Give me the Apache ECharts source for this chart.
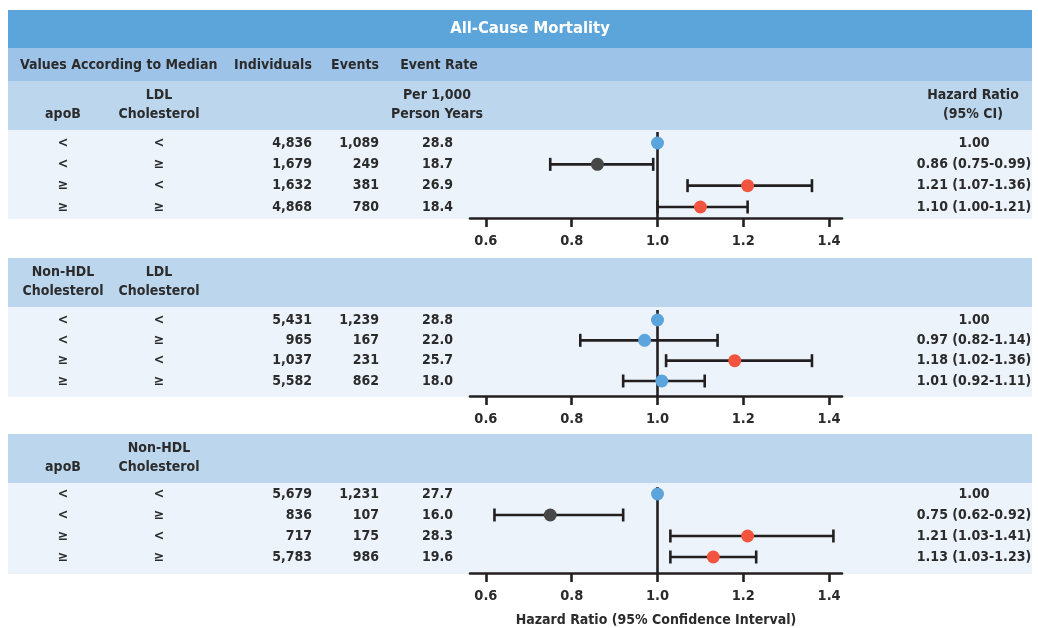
<!DOCTYPE html>
<html><head><meta charset="utf-8">
<script src="https://cdn.jsdelivr.net/npm/echarts@6/dist/echarts.min.js"></script>
<style>html,body{margin:0;padding:0;background:#fff}#c{width:1038px;height:628px}</style>
</head><body><div id="c"></div>
<script>
// ---------------- data ----------------
const xTicks = [0.6, 0.8, 1.0, 1.2, 1.4];
const rowIdx = [1, 2, 3, 4];
const firstVar = ['<', '<', '≥', '≥'];
const secondVar = ['<', '≥', '<', '≥'];

const sectionVars = [
  [['apoB'], ['LDL', 'Cholesterol']],
  [['Non-HDL', 'Cholesterol'], ['LDL', 'Cholesterol']],
  [['apoB'], ['Non-HDL', 'Cholesterol']]
];

const individuals1 = ['4,836', '1,679', '1,632', '4,868'];
const events1 = ['1,089', '249', '381', '780'];
const rates1 = ['28.8', '18.7', '26.9', '18.4'];
const hr1 = [1.00, 0.86, 1.21, 1.10];
const lo1 = [null, 0.75, 1.07, 1.00];
const hi1 = [null, 0.99, 1.36, 1.21];
const kind1 = ['ref', 'low', 'high', 'high'];

const individuals2 = ['5,431', '965', '1,037', '5,582'];
const events2 = ['1,239', '167', '231', '862'];
const rates2 = ['28.8', '22.0', '25.7', '18.0'];
const hr2 = [1.00, 0.97, 1.18, 1.01];
const lo2 = [null, 0.82, 1.02, 0.92];
const hi2 = [null, 1.14, 1.36, 1.11];
const kind2 = ['ref', 'ns', 'high', 'ns'];

const individuals3 = ['5,679', '836', '717', '5,783'];
const events3 = ['1,231', '107', '175', '986'];
const rates3 = ['27.7', '16.0', '28.3', '19.6'];
const hr3 = [1.00, 0.75, 1.21, 1.13];
const lo3 = [null, 0.62, 1.03, 1.03];
const hi3 = [null, 0.92, 1.41, 1.23];
const kind3 = ['ref', 'low', 'high', 'high'];

const sections = [
  {ind: individuals1, ev: events1, rate: rates1, hr: hr1, lo: lo1, hi: hi1, kind: kind1},
  {ind: individuals2, ev: events2, rate: rates2, hr: hr2, lo: lo2, hi: hi2, kind: kind2},
  {ind: individuals3, ev: events3, rate: rates3, hr: hr3, lo: lo3, hi: hi3, kind: kind3}
];

// ---------------- styling / layout ----------------
const FONT = '"DejaVu Sans Condensed","Liberation Sans Narrow","DejaVu Sans",sans-serif';
const TXT = '#2b2b2b';
const INK = '#231f20';
const KIND_COLOR = {ref: '#5ba4dc', ns: '#5ba4dc', low: '#474747', high: '#f2553f'};
const XMIN = 0.563, XMAX = 1.43;
const layout = [
  {top: 132, bottom: 218, ymin: 0.484, ymax: 4.516, head: 81, band: 130},
  {top: 310, bottom: 396, ymin: 0.508, ymax: 4.738, head: 258, band: 307},
  {top: 487, bottom: 573, ymin: 0.667, ymax: 4.762, head: 434, band: 483}
];
const COLX = {v1: 63, v2: 159, ind: 312, ev: 379, rate: 453, hr: 974};
const BX = 8, BW = 1024;

function txt(x, y, text, opt) {
  opt = opt || {};
  return {type: 'text', x: x, y: y, silent: true, style: {
    text: text, fill: opt.fill || TXT, align: opt.align || 'center', verticalAlign: 'middle',
    fontFamily: FONT, fontSize: opt.size || 14, fontWeight: opt.weight || 'bold'
  }};
}

const graphic = [];
graphic.push({type: 'rect', shape: {x: BX, y: 10, width: BW, height: 38}, style: {fill: '#5ca5db'}, silent: true});
graphic.push({type: 'rect', shape: {x: BX, y: 48, width: BW, height: 33}, style: {fill: '#9dc3e8'}, silent: true});
layout.forEach(L => {
  graphic.push({type: 'rect', shape: {x: BX, y: L.head, width: BW, height: L.band - L.head}, style: {fill: '#bcd6ee'}, silent: true});
  graphic.push({type: 'rect', shape: {x: BX, y: L.band, width: BW, height: L.bottom - L.band + 1}, style: {fill: '#ecf3fb'}, silent: true});
});
graphic.push(txt(530, 29, 'All-Cause Mortality', {fill: '#ffffff', size: 16.5}));
graphic.push(txt(20, 65, 'Values According to Median', {align: 'left'}));
graphic.push(txt(273, 65, 'Individuals'));
graphic.push(txt(355, 65, 'Events'));
graphic.push(txt(439, 65, 'Event Rate'));
graphic.push(txt(437, 95, 'Per 1,000'));
graphic.push(txt(437, 114, 'Person Years'));
graphic.push(txt(973, 95, 'Hazard Ratio'));
graphic.push(txt(973, 114, '(95% CI)'));
layout.forEach((L, i) => {
  [COLX.v1, COLX.v2].forEach((cx, j) => {
    const lines = sectionVars[i][j];
    if (lines.length === 1) graphic.push(txt(cx, L.head + 33.5, lines[0]));
    else { graphic.push(txt(cx, L.head + 14, lines[0])); graphic.push(txt(cx, L.head + 33.5, lines[1])); }
  });
});

const grids = [], xAxes = [], yAxes = [], series = [];
layout.forEach((L, i) => {
  const S = sections[i];
  grids.push({left: 470, width: 372, top: L.top, height: L.bottom - L.top, containLabel: false, outerBoundsMode: 'none'});
  xAxes.push({
    type: 'value', gridIndex: i, min: XMIN, max: XMAX,
    axisLine: {show: true, lineStyle: {color: INK, width: 2.6}},
    axisTick: {show: true, customValues: xTicks, length: 9, lineStyle: {color: INK, width: 2.6}},
    axisLabel: {customValues: xTicks, formatter: v => v.toFixed(1), margin: 16,
      color: TXT, fontSize: 14.5, fontWeight: 'bold', fontFamily: FONT},
    splitLine: {show: false},
    name: i === 2 ? 'Hazard Ratio (95% Confidence Interval)' : '',
    nameLocation: 'middle', nameGap: 40,
    nameTextStyle: {color: TXT, fontSize: 14, fontWeight: 'bold', fontFamily: FONT}
  });
  yAxes.push({type: 'value', gridIndex: i, inverse: true, min: L.ymin, max: L.ymax, show: false});

  const ciData = [];
  rowIdx.forEach((r, k) => { if (S.lo[k] != null) ciData.push([S.lo[k], S.hi[k], r]); });
  series.push({
    type: 'custom', xAxisIndex: i, yAxisIndex: i, z: 2, clip: false,
    encode: {x: [0, 1], y: 2},
    data: ciData,
    renderItem: function (params, api) {
      const a = api.coord([api.value(0), api.value(2)]);
      const b = api.coord([api.value(1), api.value(2)]);
      const h = 6.5, st = {stroke: INK, lineWidth: 2.6};
      return {type: 'group', children: [
        {type: 'line', shape: {x1: a[0], y1: a[1], x2: b[0], y2: b[1]}, style: st},
        {type: 'line', shape: {x1: a[0], y1: a[1] - h, x2: a[0], y2: a[1] + h}, style: st},
        {type: 'line', shape: {x1: b[0], y1: b[1] - h, x2: b[0], y2: b[1] + h}, style: st}
      ]};
    },
    markLine: {silent: true, symbol: ['none', 'none'], label: {show: false},
      lineStyle: {color: INK, width: 2.6, type: 'solid', opacity: 1}, data: [{xAxis: 1}]}
  });
  series.push({
    type: 'scatter', xAxisIndex: i, yAxisIndex: i, z: 5, symbolSize: 13,
    data: rowIdx.map((r, k) => ({value: [S.hr[k], r], itemStyle: {color: KIND_COLOR[S.kind[k]], opacity: 1}}))
  });
  series.push({
    type: 'custom', xAxisIndex: i, yAxisIndex: i, z: 3, clip: false, silent: true,
    data: rowIdx.map(r => [XMIN, r]),
    renderItem: function (params, api) {
      const k = params.dataIndex;
      const y = api.coord([XMIN, api.value(1)])[1];
      const hrTxt = S.lo[k] == null ? S.hr[k].toFixed(2)
        : S.hr[k].toFixed(2) + ' (' + S.lo[k].toFixed(2) + '-' + S.hi[k].toFixed(2) + ')';
      return {type: 'group', children: [
        txt(COLX.v1, y, firstVar[k]),
        txt(COLX.v2, y, secondVar[k]),
        txt(COLX.ind, y, S.ind[k], {align: 'right'}),
        txt(COLX.ev, y, S.ev[k], {align: 'right'}),
        txt(COLX.rate, y, S.rate[k], {align: 'right'}),
        txt(COLX.hr, y, hrTxt)
      ]};
    }
  });
});

const chart = echarts.init(document.getElementById('c'), null, {renderer: 'canvas'});
chart.setOption({
  animation: false,
  backgroundColor: '#ffffff',
  graphic: graphic,
  grid: grids, xAxis: xAxes, yAxis: yAxes, series: series
});
</script>
</body></html>
